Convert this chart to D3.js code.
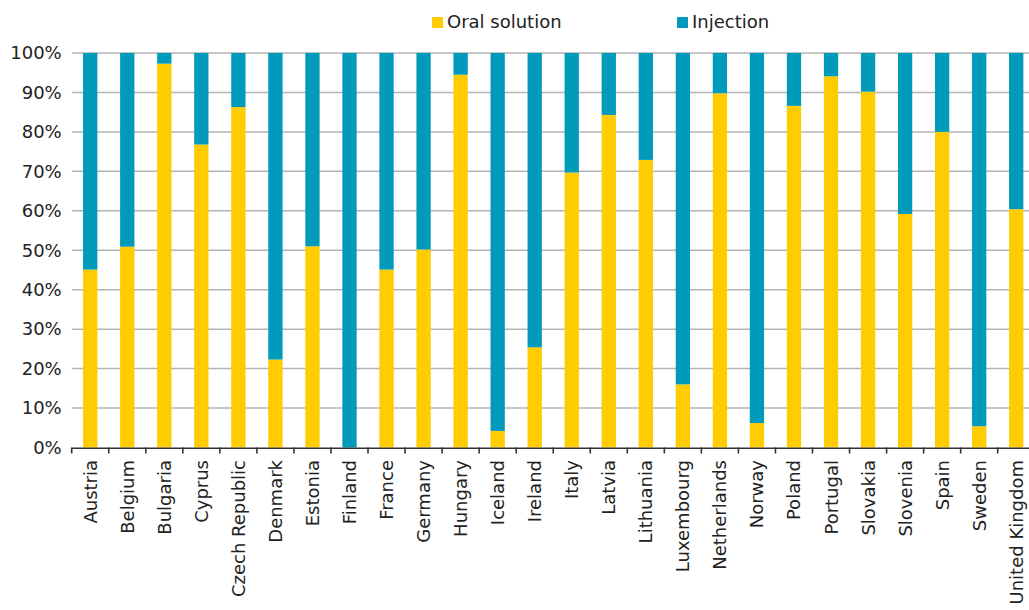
<!DOCTYPE html>
<html>
<head>
<meta charset="utf-8">
<script src="https://cdn.jsdelivr.net/npm/d3@7"></script>
<style>
  html, body { margin: 0; padding: 0; background: #fff; }
  svg { display: block; font-family: "DejaVu Sans", sans-serif; }
</style>
</head>
<body>
<svg id="chart" width="1029" height="610"></svg>
<script>
// Countries along the x axis
const countries = [
  "Austria", "Belgium", "Bulgaria", "Cyprus", "Czech Republic", "Denmark",
  "Estonia", "Finland", "France", "Germany", "Hungary", "Iceland", "Ireland",
  "Italy", "Latvia", "Lithuania", "Luxembourg", "Netherlands", "Norway",
  "Poland", "Portugal", "Slovakia", "Slovenia", "Spain", "Sweden", "United Kingdom"
];

// Share of oral solution (%) per country
const oralSolution = [
  45.1, 50.9, 97.3, 76.8, 86.3, 22.3,
  51.0, 0, 45.1, 50.2, 94.5, 4.2, 25.4,
  69.7, 84.3, 72.9, 16.0, 89.8, 6.2,
  86.6, 94.1, 90.2, 59.2, 80.0, 5.4, 60.4
];

// Share of injection (%) per country: remainder of the total
const injection = [
  54.9, 49.1, 2.7, 23.2, 13.7, 77.7,
  49.0, 100, 54.9, 49.8, 5.5, 95.8, 74.6,
  30.3, 15.7, 27.1, 84.0, 10.2, 93.8,
  13.4, 5.9, 9.8, 40.8, 20.0, 94.6, 39.6
];

const seriesNames = ["Oral solution", "Injection"];
const seriesColors = ["#FFCC00", "#009BBB"];
const yTicks = [0, 10, 20, 30, 40, 50, 60, 70, 80, 90, 100];

const FONT = "'DejaVu Sans', sans-serif";
const svg = d3.select("#chart");
const margin = { left: 71.7, top: 53, bottom: 447.5 };
const plotRight = 71.7 + 26 * 37.04;

const x = d3.scaleBand()
  .domain(countries)
  .range([margin.left, plotRight])
  .paddingInner(0.614)
  .paddingOuter(0.307);

const y = d3.scaleLinear()
  .domain([0, 100])
  .range([margin.bottom, margin.top]);

// Horizontal gridlines
svg.append("g")
  .selectAll("line")
  .data(yTicks.filter(t => t > 0))
  .join("line")
  .attr("x1", margin.left)
  .attr("x2", plotRight)
  .attr("y1", d => y(d))
  .attr("y2", d => y(d))
  .attr("stroke", "#b4b4b4")
  .attr("stroke-width", 1.5);

// Y axis labels
const yAxis = d3.axisLeft(y)
  .tickValues(yTicks)
  .tickFormat(d => d + "%")
  .tickSize(0)
  .tickPadding(10);

svg.append("g")
  .attr("transform", `translate(${margin.left},0)`)
  .call(yAxis)
  .call(g => g.select(".domain").remove())
  .call(g => g.selectAll("text")
    .attr("font-size", 18)
    .attr("font-family", FONT)
    .attr("fill", "#222"));

// Stacked bars
const rows = countries.map((c, i) => ({ country: c, oral: oralSolution[i], injection: injection[i] }));
const stack = d3.stack().keys(["oral", "injection"]);
const layers = stack(rows);

svg.append("g")
  .selectAll("g")
  .data(layers)
  .join("g")
  .attr("fill", (d, i) => seriesColors[i])
  .selectAll("rect")
  .data(d => d)
  .join("rect")
  .attr("x", d => x(d.data.country))
  .attr("width", x.bandwidth())
  .attr("y", d => y(d[1]))
  .attr("height", d => Math.max(0, y(d[0]) - y(d[1])));

// X axis line and tick marks at band boundaries
const step = x.step();
const boundaries = d3.range(countries.length + 1).map(i => margin.left + i * step);
const xAxisG = svg.append("g");
xAxisG.append("line")
  .attr("x1", margin.left)
  .attr("x2", plotRight)
  .attr("y1", margin.bottom + 0.8)
  .attr("y2", margin.bottom + 0.8)
  .attr("stroke", "#333")
  .attr("stroke-width", 1.6);
xAxisG.selectAll("line.tick")
  .data(boundaries)
  .join("line")
  .attr("class", "tick")
  .attr("x1", d => d)
  .attr("x2", d => d)
  .attr("y1", margin.bottom)
  .attr("y2", margin.bottom + 6)
  .attr("stroke", "#333")
  .attr("stroke-width", 1.6);

// Rotated country labels
xAxisG.selectAll("text")
  .data(countries)
  .join("text")
  .attr("transform", d => `translate(${x(d) + x.bandwidth() / 2},460) rotate(-90)`)
  .attr("text-anchor", "end")
  .attr("dominant-baseline", "central")
  .attr("font-size", 18)
  .attr("font-family", FONT)
  .attr("fill", "#222")
  .text(d => d);

// Legend
const legendPos = [432, 677];
const legend = svg.append("g");
seriesNames.forEach((name, i) => {
  legend.append("rect")
    .attr("x", legendPos[i])
    .attr("y", 17)
    .attr("width", 11)
    .attr("height", 11)
    .attr("fill", seriesColors[i]);
  legend.append("text")
    .attr("x", legendPos[i] + 15)
    .attr("y", 27.5)
    .attr("font-size", 18)
    .attr("font-family", FONT)
    .attr("fill", "#222")
    .text(name);
});
</script>
</body>
</html>
